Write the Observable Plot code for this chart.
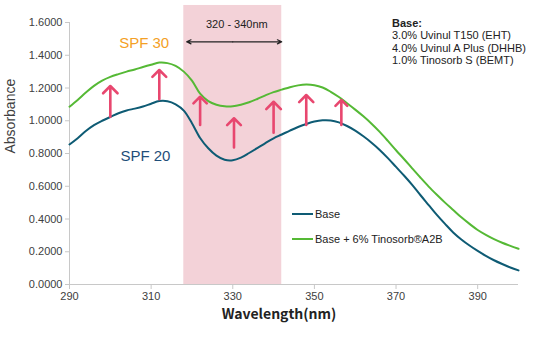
<!DOCTYPE html>
<html>
<head>
<meta charset="utf-8">
<script src="https://cdn.jsdelivr.net/npm/d3@7"></script>
<script src="https://cdn.jsdelivr.net/npm/@observablehq/plot@0.6"></script>
<style>
  html, body { margin: 0; padding: 0; background: #fff; }
  #wrap { position: relative; width: 550px; height: 342px; font-family: "Liberation Sans", Arial, sans-serif; }
  #basebox { position: absolute; left: 392px; top: 17px; font-size: 11px; line-height: 12.3px; color: #222; white-space: nowrap; }
  #legend { position: absolute; left: 292px; top: 208px; font-size: 11px; color: #222; }
  .li { display: flex; align-items: center; height: 12px; margin-bottom: 13px; white-space: nowrap; }
  .sw { width: 21px; height: 2.5px; margin-right: 2px; }
</style>
</head>
<body>
<div id="wrap">
  <div id="chart"></div>
  <div id="basebox"></div>
  <div id="legend"></div>
</div>
<script>
// ---- data ----
const wavelengths = [290,292,294,296,298,300,302,304,306,308,310,312,314,316,318,320,322,324,326,328,330,332,334,336,338,340,342,344,346,348,350,352,354,356,358,360,362,364,366,368,370,372,374,376,378,380,382,384,386,388,390,392,394,396,398,400];
const baseValues = [0.855,0.893,0.937,0.973,1.000,1.023,1.046,1.063,1.074,1.087,1.104,1.120,1.119,1.100,1.062,0.985,0.895,0.832,0.787,0.762,0.759,0.775,0.803,0.833,0.864,0.893,0.916,0.940,0.962,0.980,0.995,1.003,1.002,0.990,0.968,0.940,0.905,0.866,0.822,0.772,0.718,0.664,0.607,0.545,0.485,0.425,0.370,0.318,0.275,0.238,0.205,0.175,0.148,0.125,0.104,0.086];
const a2bValues = [1.086,1.127,1.172,1.213,1.245,1.268,1.285,1.300,1.313,1.328,1.342,1.355,1.352,1.335,1.300,1.245,1.165,1.120,1.098,1.088,1.088,1.098,1.113,1.133,1.155,1.175,1.190,1.205,1.216,1.221,1.217,1.203,1.177,1.145,1.107,1.068,1.027,0.982,0.932,0.877,0.820,0.765,0.708,0.652,0.598,0.548,0.500,0.455,0.410,0.370,0.333,0.303,0.277,0.255,0.236,0.218];
const seriesNames = ["Base", "Base + 6% Tinosorb®A2B"];
const seriesColors = ["#0e5b74", "#55b935"];

const arrowWl   = [300, 312, 322, 330.3, 340, 348, 356.6];
const arrowFrom = [1.025, 1.131, 0.974, 0.837, 0.927, 0.974, 0.974];
const arrowTo   = [1.212, 1.31, 1.147, 1.015, 1.116, 1.157, 1.127];

const bandRange = [318, 342];
const bandTop = 1.704;
const bandLabel = "320 - 340nm";
const bandArrowY = 1.482;

const xTicks = [290, 310, 330, 350, 370, 390];
const yTicks = [0, 0.2, 0.4, 0.6, 0.8, 1.0, 1.2, 1.4, 1.6];

const spfLabels = [
  {text: "SPF 30", x: 308.3, y: 1.473, color: "#f4a025"},
  {text: "SPF 20", x: 308.6, y: 0.784, color: "#1f4e79"}
];
const baseLines = ["Base:", "3.0% Uvinul T150 (EHT)", "4.0% Uvinul A Plus (DHHB)", "1.0% Tinosorb S (BEMT)"];

// ---- build tables ----
const rows = [];
wavelengths.forEach((w, i) => {
  rows.push({series: seriesNames[0], x: w, y: baseValues[i]});
  rows.push({series: seriesNames[1], x: w, y: a2bValues[i]});
});
const arrows = arrowWl.map((w, i) => ({x: w, y1: arrowFrom[i], y2: arrowTo[i]}));
const bandMid = (bandRange[0] + bandRange[1]) / 2;

const chart = Plot.plot({
  width: 550,
  height: 342,
  marginLeft: 69,
  marginRight: 32,
  marginTop: 22,
  marginBottom: 58,
  x: {domain: [290, 400]},
  y: {domain: [0, 1.6]},
  color: {domain: seriesNames, range: seriesColors},
  style: {fontFamily: "Liberation Sans, Arial, sans-serif", fontSize: "11px", color: "#404040", background: "transparent"},
  marks: [
    Plot.rect([{x1: bandRange[0], x2: bandRange[1], y1: 0, y2: bandTop}], {x1: "x1", x2: "x2", y1: "y1", y2: "y2", fill: "#f3d2d8"}),
    Plot.ruleX([290], {stroke: "#c8c8c8"}),
    Plot.ruleY([0], {stroke: "#c8c8c8"}),
    Plot.axisY({ticks: yTicks, tickFormat: d3.format(".4f"), tickSize: 4, tickPadding: 3, stroke: "#c8c8c8", fill: "#404040", label: null}),
    Plot.axisX({ticks: xTicks, tickFormat: d3.format("d"), tickSize: 5, tickPadding: 3, stroke: "#c8c8c8", fill: "#404040", label: null}),
    Plot.line(rows, {x: "x", y: "y", z: "series", stroke: "series", strokeWidth: 2, curve: "catmull-rom"}),
    Plot.arrow(arrows, {x: "x", y1: "y1", y2: "y2", stroke: "#e8476f", strokeWidth: 2.6, headLength: 8, headAngle: 90}),
    Plot.arrow([{x1: bandMid, x2: bandRange[0] + 0.7, y: bandArrowY}, {x1: bandMid, x2: bandRange[1], y: bandArrowY}],
      {x1: "x1", x2: "x2", y: "y", stroke: "#222", strokeWidth: 1.2, headLength: 6, headAngle: 50}),
    Plot.text([bandLabel], {x: bandMid + 1, y: 1.586, text: d => d, fill: "#222", fontSize: 11}),
    Plot.text(spfLabels, {x: "x", y: "y", text: "text", fill: "color", fontSize: 15}),
    Plot.text(["Absorbance"], {frameAnchor: "left", dx: -59, rotate: -90, text: d => d, fill: "#404040", fontSize: 14}),
    Plot.text(["Wavelength(nm)"], {frameAnchor: "bottom", dx: -15, dy: 34, text: d => d, fill: "#222", fontSize: 14, fontWeight: "bold", fontFamily: "Noto Sans CJK JP, sans-serif"})
  ]
});
document.getElementById("chart").appendChild(chart);

// base composition box
const bb = document.getElementById("basebox");
baseLines.forEach((t, i) => {
  const d = document.createElement("div");
  d.textContent = t;
  if (i === 0) d.style.fontWeight = "bold";
  bb.appendChild(d);
});

// legend
const lg = document.getElementById("legend");
seriesNames.forEach((n, i) => {
  const row = document.createElement("div");
  row.className = "li";
  const sw = document.createElement("span");
  sw.className = "sw";
  sw.style.background = seriesColors[i];
  const tx = document.createElement("span");
  tx.textContent = n;
  row.appendChild(sw);
  row.appendChild(tx);
  lg.appendChild(row);
});
</script>
</body>
</html>
